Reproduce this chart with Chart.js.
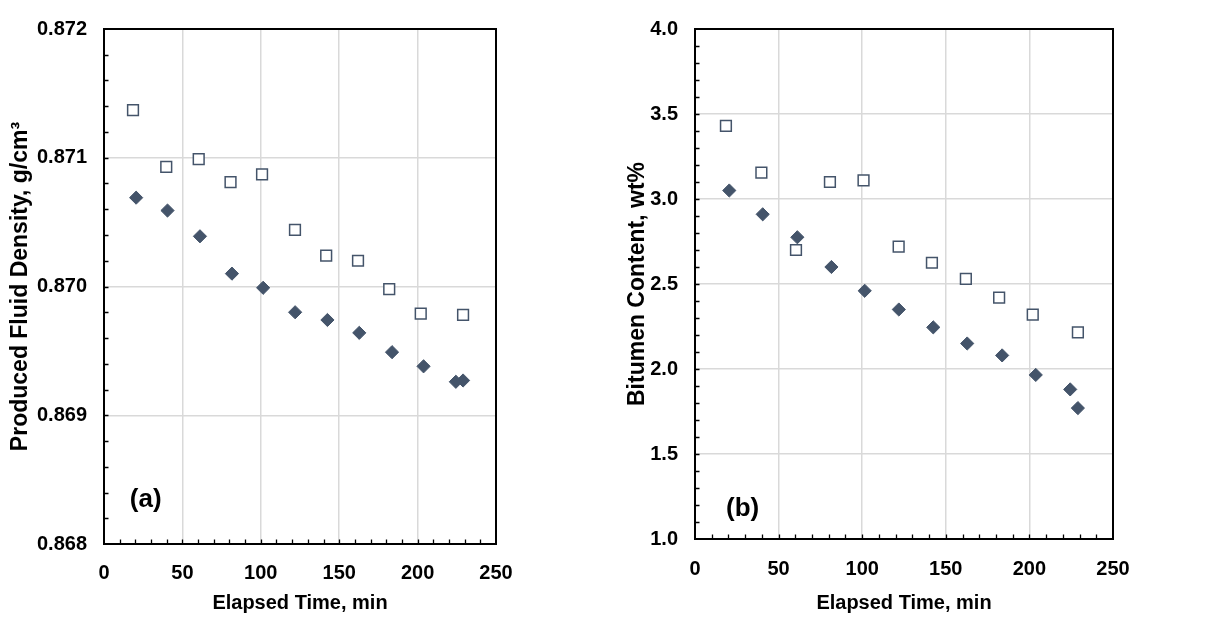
<!DOCTYPE html>
<html>
<head>
<meta charset="utf-8">
<script src="https://cdn.jsdelivr.net/npm/chart.js@4/dist/chart.umd.min.js"></script>
<style>
  body { margin: 0; background: #fff; }
  #wrap { position: relative; width: 1219px; height: 617px; }
  canvas { position: absolute; top: 0; }
  #chartA { left: 0; }
  #chartB { left: 610px; }
</style>
</head>
<body>
<div id="wrap">
  <canvas id="chartA" width="610" height="617"></canvas>
  <canvas id="chartB" width="609" height="617"></canvas>
</div>
<script>
// elapsed time of each sample, min
const squareTimes  = [18.5, 39.7, 60.4, 80.7, 100.8, 121.8, 141.7, 162.0, 181.9, 202.0, 229.0]
const diamondTimes = [20.5, 40.5, 61.2, 81.6, 101.5, 121.9, 142.5, 162.8, 183.7, 203.8, 224.4, 229.0]

// (a) produced fluid density, g/cm3
const densitySquares  = [0.87137, 0.87093, 0.87099, 0.87081, 0.87087, 0.87044, 0.87024, 0.87020, 0.86998, 0.86979, 0.86978]
const densityDiamonds = [0.87069, 0.87059, 0.87039, 0.87010, 0.86999, 0.86980, 0.86974, 0.86964, 0.86949, 0.86938, 0.86926, 0.86927]

// (b) bitumen content, wt%
const bitumenSquares  = [3.43, 3.155, 2.70, 3.10, 3.11, 2.72, 2.625, 2.53, 2.42, 2.32, 2.215]
const bitumenDiamonds = [3.05, 2.91, 2.775, 2.60, 2.46, 2.35, 2.245, 2.15, 2.08, 1.965, 1.88, 1.77]

// tick labels
const xTicks  = [0, 50, 100, 150, 200, 250]
const yTicksA = [0.868, 0.869, 0.870, 0.871, 0.872]
const yTicksB = [1.0, 1.5, 2.0, 2.5, 3.0, 3.5, 4.0]

const FONT = "Arial, 'Liberation Sans', sans-serif"
const MARK = '#44546A'

const pts = (xs, ys) => ys.map((v, i) => ({x: xs[i], y: v}))

// black frame, inward minor ticks and the (a)/(b) label
const frameTicks = {
  id: 'frameTicks',
  afterDraw(chart, args, opts) {
    const {ctx, chartArea: a, scales: {x, y}} = chart
    ctx.save()
    ctx.strokeStyle = '#000'
    ctx.lineWidth = 1.3
    ctx.beginPath()
    const nx = Math.round((x.max - x.min) / opts.xMinor)
    for (let i = 1; i < nx; i++) {
      const px = Math.round(x.getPixelForValue(x.min + i * opts.xMinor)) + 0.5
      ctx.moveTo(px, a.bottom); ctx.lineTo(px, a.bottom - 4.5)
    }
    const ny = Math.round((y.max - y.min) / opts.yMinor)
    for (let i = 1; i < ny; i++) {
      const py = Math.round(y.getPixelForValue(y.min + i * opts.yMinor)) + 0.5
      ctx.moveTo(a.left, py); ctx.lineTo(a.left + 4.5, py)
    }
    ctx.stroke()
    ctx.lineWidth = 2
    ctx.strokeRect(a.left, a.top, a.width, a.height)

    ctx.fillStyle = '#000'
    ctx.font = 'bold 26px ' + FONT
    ctx.textAlign = 'center'
    ctx.textBaseline = 'middle'
    ctx.fillText(opts.label.text, x.getPixelForValue(opts.label.x), y.getPixelForValue(opts.label.y))
    ctx.restore()
  }
}

function makeChart(id, sq, dm, yTicks, yMin, yMax, yMinor, yTitle, fmt, lay, label) {
  return new Chart(document.getElementById(id), {
    type: 'scatter',
    data: {
      datasets: [
        {
          data: pts(diamondTimes, dm),
          pointStyle: 'rectRot',
          pointRadius: 6.6,
          backgroundColor: MARK,
          borderColor: MARK,
          borderWidth: 1
        },
        {
          data: pts(squareTimes, sq),
          pointStyle: 'rect',
          pointRadius: 7.6,
          backgroundColor: '#fff',
          borderColor: MARK,
          borderWidth: 1.5
        }
      ]
    },
    options: {
      responsive: false,
      animation: false,
      layout: {padding: {left: 0, top: lay.top, right: lay.right, bottom: 0}},
      plugins: {
        legend: {display: false},
        tooltip: {enabled: false},
        frameTicks: {xMinor: 10, yMinor: yMinor, label: label}
      },
      scales: {
        x: {
          type: 'linear',
          min: 0, max: 250,
          afterBuildTicks: s => { s.ticks = xTicks.map(v => ({value: v})) },
          afterFit: s => { s.height = lay.xHeight },
          ticks: {color: '#000', padding: lay.xPad, font: {family: FONT, size: 20, weight: 'bold'}},
          grid: {color: '#d9d9d9', lineWidth: 1.5, drawTicks: false},
          border: {display: false},
          title: {
            display: true, text: 'Elapsed Time, min', color: '#000',
            font: {family: FONT, size: 20, weight: 'bold'},
            padding: {top: 0, bottom: 2}
          }
        },
        y: {
          type: 'linear',
          min: yMin, max: yMax,
          afterBuildTicks: s => { s.ticks = yTicks.map(v => ({value: v})) },
          afterFit: s => { s.width = lay.yWidth },
          ticks: {color: '#000', padding: 17, font: {family: FONT, size: 20, weight: 'bold'}, callback: fmt},
          grid: {color: '#d9d9d9', lineWidth: 1.5, drawTicks: false},
          border: {display: false},
          title: {
            display: true, text: yTitle, color: '#000',
            font: {family: FONT, size: 23, weight: 'bold'},
            padding: {top: lay.yTitlePad, bottom: 0}
          }
        }
      }
    },
    plugins: [frameTicks]
  })
}

makeChart('chartA', densitySquares, densityDiamonds, yTicksA, 0.868, 0.872, 0.0002,
  'Produced Fluid Density, g/cm³', v => v.toFixed(3),
  {top: 25, right: 114, xHeight: 73, yWidth: 104, xPad: 17, yTitlePad: 7},
  {text: '(a)', x: 26.6, y: 0.86834})

makeChart('chartB', bitumenSquares, bitumenDiamonds, yTicksB, 1.0, 4.0, 0.1,
  'Bitumen Content, wt%', v => v.toFixed(1),
  {top: 22, right: 106, xHeight: 78, yWidth: 85, xPad: 18, yTitlePad: 14},
  {text: '(b)', x: 28.5, y: 1.178})
</script>
</body>
</html>
